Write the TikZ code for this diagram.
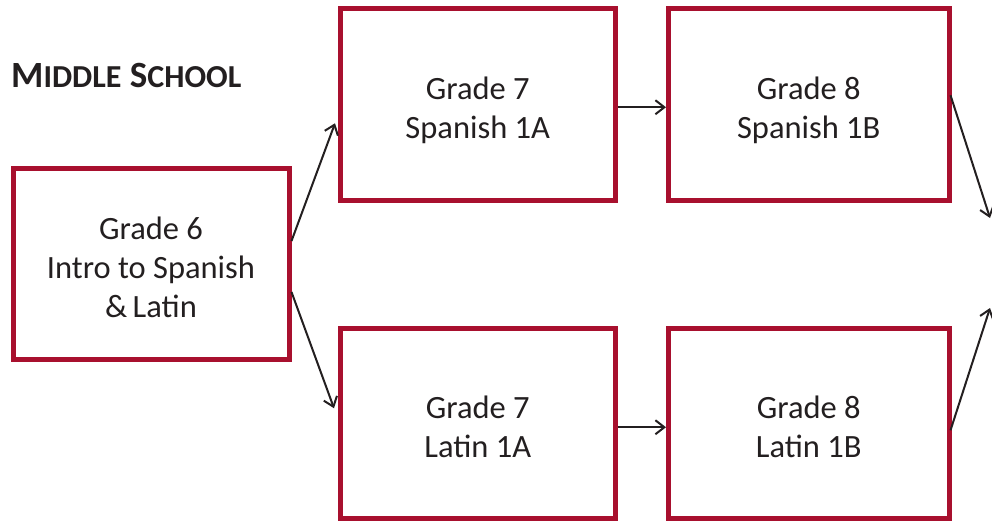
\documentclass[tikz,border=0pt]{standalone}
\usepackage{fontspec}
\setmainfont{Carlito}
\usetikzlibrary{arrows.meta,calc}
\definecolor{boxred}{RGB}{168,16,46}
\definecolor{ink}{RGB}{35,31,32}
\newcommand\coursetext[1]{\raisebox{0pt}[\dimexpr\height+13pt\relax][\depth]{\begin{tabular}{@{}c@{}}#1\end{tabular}}}
\begin{document}
\begin{tikzpicture}[x=1pt,y=-1pt,
  course/.style={draw=boxred,line width=5pt,fill=white,
    font=\fontsize{32.5}{39}\selectfont,text=ink,inner sep=0pt},
  flow/.style={draw=ink,line width=2pt,-{Straight Barb[length=9pt,width=14pt,line width=2pt]}}]
\useasboundingbox (0,0) rectangle (992,524);
\node[font=\bfseries\fontsize{37}{40}\selectfont,text=ink,anchor=west,inner xsep=0pt] (title) at (11,75)
  {M{\fontsize{32}{34}\selectfont IDDLE} S{\fontsize{32}{34}\selectfont CHOOL}};
\node[course,minimum width=276,minimum height=191] (g6) at (151,264)
  {\coursetext{Grade 6\\Intro to Spanish\\\&\,Latin}};
\node[course,minimum width=274.5,minimum height=191.5] (s7) at (477.75,104.25)
  {\coursetext{Grade 7\\Spanish 1A}};
\node[course,minimum width=280.5,minimum height=191.5] (s8) at (808.75,104.25)
  {\coursetext{Grade 8\\Spanish 1B}};
\node[course,minimum width=274.5,minimum height=190.5] (l7) at (477.75,423.25)
  {\coursetext{Grade 7\\Latin 1A}};
\node[course,minimum width=280.5,minimum height=190.5] (l8) at (808.75,423.25)
  {\coursetext{Grade 8\\Latin 1B}};
\coordinate (outS) at (990,218);
\coordinate (outL) at (990,308);
\draw[flow] ([yshift=23pt]g6.east) -- ([xshift=-3pt,yshift=-19pt]s7.west);
\draw[flow] ([yshift=-28pt]g6.east) -- ([xshift=-4pt,yshift=15pt]l7.west);
\draw[flow] ([yshift=-3pt]s7.east) -- ([yshift=-3pt]s8.west);
\draw[flow] ([yshift=-4pt]l7.east) -- ([yshift=-4pt]l8.west);
\draw[flow] ([xshift=-1pt,yshift=9pt]s8.east) -- (outS);
\draw[flow] ([xshift=-1pt,yshift=-7pt]l8.east) -- (outL);
\end{tikzpicture}
\end{document}
